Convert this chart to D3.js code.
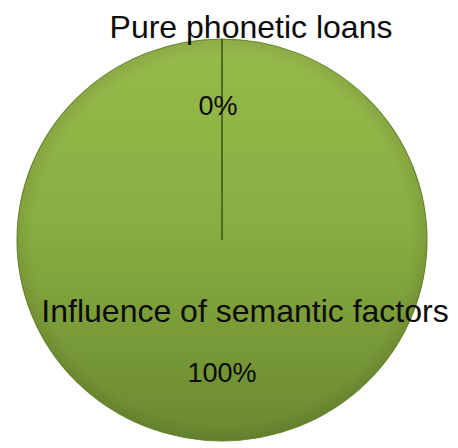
<!DOCTYPE html>
<html>
<head>
<meta charset="utf-8">
<script src="https://cdn.jsdelivr.net/npm/d3@7"></script>
<style>
  html, body { margin: 0; padding: 0; background: #ffffff; }
  svg { display: block; }
  text { font-family: "Liberation Sans", Arial, sans-serif; fill: #0c0c0c; }
</style>
</head>
<body>
<svg id="chart" width="458" height="448"></svg>
<script>
// Share of loanwords by origin
const categories = ["Pure phonetic loans", "Influence of semantic factors"];
const values = [0, 100];
const percentLabels = ["0%", "100%"];

const width = 458, height = 448;
const cx = 222, cy = 240, radius = 203;

const svg = d3.select("#chart");
const defs = svg.append("defs");

// Light green at the top fading to olive at the bottom
const grad = defs.append("linearGradient")
  .attr("id", "pieFill").attr("x1", 0).attr("y1", 0).attr("x2", 0).attr("y2", 1);
grad.append("stop").attr("offset", "0%").attr("stop-color", "#97ba4c");
grad.append("stop").attr("offset", "45%").attr("stop-color", "#8aae41");
grad.append("stop").attr("offset", "100%").attr("stop-color", "#6a8930");

// Soft darkening toward the rim
const rim = defs.append("radialGradient").attr("id", "rimShade");
rim.append("stop").attr("offset", "92%").attr("stop-color", "#000").attr("stop-opacity", 0);
rim.append("stop").attr("offset", "100%").attr("stop-color", "#000").attr("stop-opacity", 0.08);

const pie = d3.pie().sort(null).value(d => d)
  .startAngle(0).endAngle(2 * Math.PI);
const arcs = pie(values);
const arc = d3.arc().innerRadius(0).outerRadius(radius);

const g = svg.append("g")
  .attr("transform", `translate(${cx},${cy}) scale(1.01,0.99)`);

g.selectAll("path.slice")
  .data(arcs)
  .join("path")
  .attr("class", "slice")
  .attr("d", arc)
  .attr("fill", "url(#pieFill)")
  .attr("stroke", "#6a8a30")
  .attr("stroke-width", 1)
  .attr("stroke-linejoin", "round");

g.append("circle")
  .attr("r", radius)
  .attr("fill", "url(#rimShade)")
  .attr("pointer-events", "none");

// Slice borders: a radius at each slice's start angle (shows the empty slice too)
g.selectAll("line.border")
  .data(arcs)
  .join("line")
  .attr("class", "border")
  .attr("x1", 0).attr("y1", 0)
  .attr("x2", d => radius * Math.sin(d.startAngle))
  .attr("y2", d => -radius * Math.cos(d.startAngle))
  .attr("stroke", "#4f6b20")
  .attr("stroke-width", 2);

// Category names and percentages
const labelPos = [
  { name: [251, 38], pct: [218, 115] },
  { name: [245, 322], pct: [222, 382] }
];

svg.selectAll("text.name")
  .data(categories)
  .join("text")
  .attr("class", "name")
  .attr("x", (d, i) => labelPos[i].name[0])
  .attr("y", (d, i) => labelPos[i].name[1])
  .attr("text-anchor", "middle")
  .attr("font-size", 32)
  .text(d => d);

svg.selectAll("text.pct")
  .data(percentLabels)
  .join("text")
  .attr("class", "pct")
  .attr("x", (d, i) => labelPos[i].pct[0])
  .attr("y", (d, i) => labelPos[i].pct[1])
  .attr("text-anchor", "middle")
  .attr("font-size", 27)
  .text(d => d);
</script>
</body>
</html>
